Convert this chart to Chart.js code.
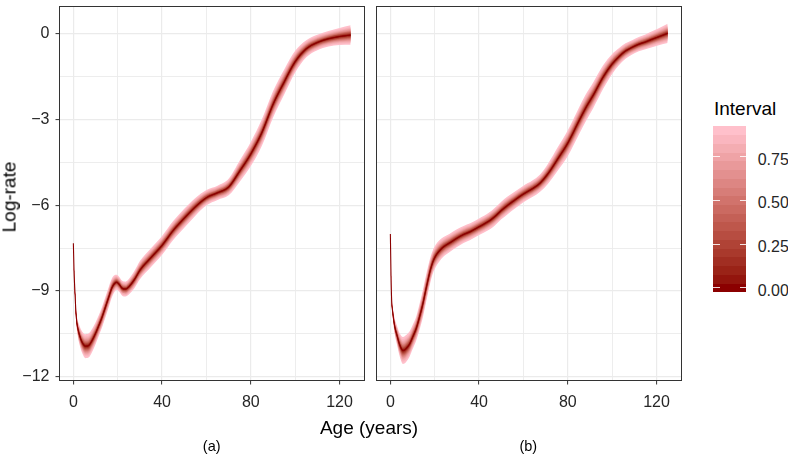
<!DOCTYPE html>
<html>
<head>
<meta charset="utf-8">
<script src="https://cdn.jsdelivr.net/npm/chart.js@4.4.1/dist/chart.umd.min.js"></script>
<style>
  body { margin: 0; background: #fff; width: 788px; height: 454px; position: relative; overflow: hidden;
         font-family: 'Liberation Sans', Arial, sans-serif; }
  .box { position: absolute; }
  .txt { position: absolute; line-height: 1; white-space: nowrap; color: #000; transform: translate(-50%, -50%); }
</style>
</head>
<body>
<div class="box" style="left:0;top:0;width:370px;height:454px"><canvas id="chartA"></canvas></div>
<div class="box" style="left:370px;top:0;width:318px;height:454px"><canvas id="chartB"></canvas></div>
<div class="txt" style="left:9.2px;top:196.7px;font-size:19px;transform:translate(-50%,-50%) rotate(-90deg)">Log-rate</div>
<div class="txt" style="left:369px;top:426.5px;font-size:19px">Age (years)</div>
<div class="txt" style="left:211.7px;top:445.5px;font-size:14.5px">(a)</div>
<div class="txt" style="left:528.3px;top:445.5px;font-size:14.5px">(b)</div>
<div id="legend"></div>
<script>
// panel (a)
var agesA = [0, 0.3, 0.6, 1.3, 2, 2.8, 4, 5.5, 7, 8.5, 10, 11.5, 13, 14.5, 16, 17.3, 18.5, 19.5, 20.5, 22,
  23.5, 25, 27.5, 30, 35, 40, 45, 50, 55, 60, 65, 70, 75, 80, 85, 90, 95, 100, 105, 110, 115, 120, 125];
var rateA = [-7.33, -8.3, -8.85, -9.9, -10.3, -10.55, -10.8, -10.93, -10.9, -10.72, -10.48, -10.2, -9.9, -9.55,
  -9.2, -8.9, -8.74, -8.69, -8.75, -8.9, -8.93, -8.85, -8.6, -8.27, -7.83, -7.4, -6.88, -6.45, -6.05, -5.73,
  -5.56, -5.36, -4.8, -4.2, -3.45, -2.47, -1.69, -0.97, -0.52, -0.3, -0.17, -0.09, -0.04];
// half-width of the widest (95%) interval
var spreadA = [0.05, 0.08, 0.12, 0.2, 0.27, 0.33, 0.38, 0.42, 0.42, 0.4, 0.38, 0.36, 0.36, 0.36, 0.35, 0.33,
  0.29, 0.26, 0.26, 0.26, 0.26, 0.27, 0.3, 0.32, 0.33, 0.33, 0.33, 0.33, 0.31, 0.27, 0.25, 0.29, 0.37, 0.42,
  0.46, 0.46, 0.44, 0.38, 0.3, 0.27, 0.27, 0.3, 0.34];

// panel (b)
var agesB = [0, 0.3, 0.6, 1, 2, 3, 4.2, 5.7, 7, 8.7, 10, 11.7, 13, 14.7, 16, 17, 18, 19.2, 20.5, 22, 24, 26.6,
  30, 33, 36, 40, 44.5, 47, 50, 53, 56, 60, 64, 67.5, 71, 75.5, 80, 85, 88, 91.5, 96, 100, 103, 106, 109, 112,
  115, 118, 121, 125];
var rateB = [-7.0, -8.5, -9.35, -9.7, -10.25, -10.55, -10.88, -11.08, -11.02, -10.85, -10.62, -10.3, -9.95,
  -9.43, -8.95, -8.6, -8.27, -7.97, -7.76, -7.6, -7.45, -7.32, -7.15, -7.02, -6.92, -6.75, -6.55, -6.4, -6.18,
  -5.99, -5.82, -5.6, -5.42, -5.22, -4.9, -4.37, -3.82, -3.05, -2.6, -2.14, -1.5, -1.05, -0.8, -0.6, -0.47,
  -0.36, -0.28, -0.19, -0.1, 0.02];
var spreadB = [0.05, 0.08, 0.12, 0.18, 0.27, 0.33, 0.4, 0.47, 0.47, 0.44, 0.42, 0.42, 0.45, 0.48, 0.48, 0.46,
  0.44, 0.41, 0.39, 0.37, 0.34, 0.32, 0.31, 0.3, 0.29, 0.29, 0.3, 0.31, 0.31, 0.31, 0.3, 0.29, 0.29, 0.3, 0.35,
  0.41, 0.45, 0.47, 0.47, 0.45, 0.41, 0.35, 0.3, 0.27, 0.25, 0.25, 0.26, 0.28, 0.3, 0.34];

// interval fill values (legend) and normal quantiles of the nested central intervals 5%..95%
var intervalValues = [0, 0.05, 0.1, 0.15, 0.2, 0.25, 0.3, 0.35, 0.4, 0.45, 0.5, 0.55, 0.6, 0.65, 0.7, 0.75, 0.8, 0.85, 0.9];
var zLevels = [0.0627, 0.1257, 0.1891, 0.2533, 0.3186, 0.3853, 0.4538, 0.5244, 0.5978, 0.6745, 0.7554, 0.8416,
  0.9346, 1.0364, 1.1503, 1.2816, 1.4395, 1.6449, 1.96];
var legendTicks = [0, 0.25, 0.5, 0.75];
var legendLabels = ['0.00', '0.25', '0.50', '0.75'];

var xMajor = [0, 40, 80, 120], xMinor = [20, 60, 100];
var yMajor = [-12, -9, -6, -3, 0], yMinor = [-10.5, -7.5, -4.5, -1.5];

var LOW = [139, 0, 0], HIGH = [255, 192, 203];

function lin(c) { c /= 255; return c <= 0.04045 ? c / 12.92 : Math.pow((c + 0.055) / 1.055, 2.4); }
function gam(c) { var v = c <= 0.0031308 ? 12.92 * c : 1.055 * Math.pow(c, 1 / 2.4) - 0.055; return Math.round(Math.max(0, Math.min(1, v)) * 255); }
function fl(t) { return t > 0.008856 ? Math.cbrt(t) : 7.787 * t + 16 / 116; }
function fi(t) { return t > 0.206893 ? t * t * t : (t - 16 / 116) / 7.787; }
function toLab(c) {
  var r = lin(c[0]), g = lin(c[1]), b = lin(c[2]);
  var X = (0.4124 * r + 0.3576 * g + 0.1805 * b) / 0.95047;
  var Y = 0.2126 * r + 0.7152 * g + 0.0722 * b;
  var Z = (0.0193 * r + 0.1192 * g + 0.9505 * b) / 1.08883;
  return [116 * fl(Y) - 16, 500 * (fl(X) - fl(Y)), 200 * (fl(Y) - fl(Z))];
}
function fromLab(l) {
  var fy = (l[0] + 16) / 116, fx = fy + l[1] / 500, fz = fy - l[2] / 200;
  var X = fi(fx) * 0.95047, Y = fi(fy), Z = fi(fz) * 1.08883;
  var r = 3.2406 * X - 1.5372 * Y - 0.4986 * Z;
  var g = -0.9689 * X + 1.8758 * Y + 0.0415 * Z;
  var b = 0.0557 * X - 0.2040 * Y + 1.0570 * Z;
  return 'rgb(' + gam(r) + ',' + gam(g) + ',' + gam(b) + ')';
}
var labLow = toLab(LOW), labHigh = toLab(HIGH);
function fillColor(v) {
  var t = v / 0.9;
  return fromLab([0, 1, 2].map(function (i) { return labLow[i] + (labHigh[i] - labLow[i]) * t; }));
}

function isMajor(list, v) { return list.indexOf(v) >= 0; }
function minus(v) { return v < 0 ? '\u2212' + Math.abs(v) : String(v); }

function buildDatasets(ages, rate, spread) {
  var ds = [{
    data: ages.map(function (a, i) { return { x: a, y: rate[i] }; }),
    borderColor: '#8b0000', borderWidth: 1.1, pointRadius: 0, fill: false
  }];
  for (var k = 0; k < zLevels.length; k++) {
    var f = zLevels[k] / 1.96;
    ds.push({
      data: ages.map(function (a, i) { return { x: a, y: rate[i] + spread[i] * f }; }),
      borderWidth: 0, borderColor: 'rgba(0,0,0,0)', pointRadius: 0,
      backgroundColor: fillColor(intervalValues[k]), fill: '+1'
    });
    ds.push({
      data: ages.map(function (a, i) { return { x: a, y: rate[i] - spread[i] * f }; }),
      borderWidth: 0, borderColor: 'rgba(0,0,0,0)', pointRadius: 0, fill: false
    });
  }
  return ds;
}

var frame = {
  id: 'frame',
  afterDatasetsDraw: function (chart) {
    var a = chart.chartArea, c = chart.ctx;
    c.save();
    c.strokeStyle = '#333333';
    c.lineWidth = 1;
    c.strokeRect(a.left, a.top, a.right - a.left, a.bottom - a.top);
    c.restore();
  }
};

Chart.defaults.font.family = "'Liberation Sans', Arial, sans-serif";

function makePanel(id, ages, rate, spread, showY, pad) {
  new Chart(document.getElementById(id), {
    type: 'line',
    data: { datasets: buildDatasets(ages, rate, spread) },
    plugins: [frame],
    options: {
      responsive: true,
      maintainAspectRatio: false,
      animation: false,
      cubicInterpolationMode: 'monotone',
      layout: { padding: pad },
      plugins: { legend: { display: false }, tooltip: { enabled: false } },
      scales: {
        x: {
          type: 'linear', min: -6.25, max: 131.25,
          afterBuildTicks: function (s) {
            s.ticks = xMajor.concat(xMinor).sort(function (p, q) { return p - q; }).map(function (v) { return { value: v }; });
          },
          afterFit: function (s) { s.height = 73.5; s.paddingLeft = 0; s.paddingRight = 0; },
          border: { display: false },
          grid: {
            color: '#ebebeb',
            lineWidth: function (c) { return isMajor(xMajor, c.tick.value) ? 1.2 : 0.9; },
            tickLength: 4, tickWidth: 1,
            tickColor: function (c) { return isMajor(xMajor, c.tick.value) ? '#333333' : 'rgba(0,0,0,0)'; }
          },
          ticks: {
            autoSkip: false, maxRotation: 0, padding: 8, color: '#262626', font: { size: 16 },
            callback: function (v) { return isMajor(xMajor, v) ? String(v) : ''; }
          }
        },
        y: {
          min: -12.13, max: 0.96,
          afterBuildTicks: function (s) {
            s.ticks = yMajor.concat(yMinor).sort(function (p, q) { return p - q; }).map(function (v) { return { value: v }; });
          },
          afterFit: function (s) { s.width = showY ? 59.5 : 0; s.paddingTop = 0; s.paddingBottom = 0; },
          border: { display: false },
          grid: {
            color: '#ebebeb',
            lineWidth: function (c) { return isMajor(yMajor, c.tick.value) ? 1.2 : 0.9; },
            drawTicks: showY, tickLength: 4, tickWidth: 1,
            tickColor: function (c) { return isMajor(yMajor, c.tick.value) ? '#333333' : 'rgba(0,0,0,0)'; }
          },
          ticks: {
            display: showY, autoSkip: false, padding: 6, color: '#262626', font: { size: 16 },
            callback: function (v) { return isMajor(yMajor, v) ? minus(v) : ''; }
          }
        }
      }
    }
  });
}

makePanel('chartA', agesA, rateA, spreadA, true, { top: 6.5, left: 0, right: 5.5, bottom: 0 });
makePanel('chartB', agesB, rateB, spreadB, false, { top: 6.5, left: 6.5, right: 6.5, bottom: 0 });

// colour bar legend
(function () {
  var lg = document.getElementById('legend');
  var left = 713.3, width = 32.7, y0 = 287.7, px = 174.7;
  function yOf(v) { return y0 - v * px; }
  var html = '<div class="txt" style="left:714px;top:108px;font-size:19px;transform:translate(0,-50%)">Interval</div>';
  intervalValues.forEach(function (v) {
    var top = yOf(v + 0.025);
    html += '<div style="position:absolute;left:' + left + 'px;top:' + top + 'px;width:' + width +
      'px;height:' + (0.05 * px + 0.3) + 'px;background:' + fillColor(v) + '"></div>';
  });
  legendTicks.forEach(function (v, i) {
    var y = yOf(v) - 0.5;
    html += '<div style="position:absolute;left:' + left + 'px;top:' + y + 'px;width:6.5px;height:1px;background:rgba(255,255,255,0.85)"></div>';
    html += '<div style="position:absolute;left:' + (left + width - 6.5) + 'px;top:' + y + 'px;width:6.5px;height:1px;background:rgba(255,255,255,0.85)"></div>';
    html += '<div class="txt" style="left:757.7px;top:' + (yOf(v) + 3) + 'px;font-size:16px;color:#262626;transform:translate(0,-50%)">' + legendLabels[i] + '</div>';
  });
  lg.innerHTML = html;
})();
</script>
</body>
</html>
